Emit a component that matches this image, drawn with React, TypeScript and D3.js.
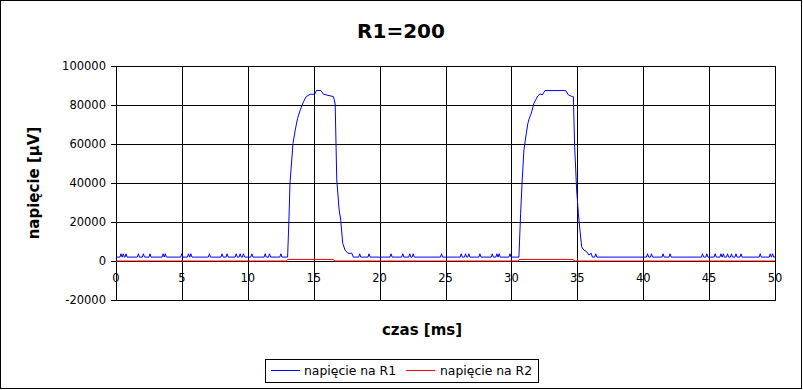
import * as d3 from "d3";

// czas [ms] of the small blips on the R1 baseline
const blipTimes = [
  0.38, 0.55, 0.76, 1.7, 2.08, 2.58, 3.58, 3.74, 4.99, 5.5, 5.68, 7.09, 8.05, 8.43,
  9.12, 9.42, 9.67, 10.31, 11.32, 11.65, 12.51, 18.49, 19.2, 20.87, 21.76, 22.29,
  22.55, 24.7, 26.19, 26.52, 26.77, 27.61, 28.55, 28.9, 29.07, 29.89, 36.4, 40.33,
  40.63, 41.51, 42.04, 44.5, 44.83, 45.46, 45.9, 46.08, 46.4, 46.7, 47.04, 47.42,
  48.88, 49.64, 49.82,
];
const r1Base = 2000;
const r1Blip = 3700;

// first pulse on R1: [t, µV]
const pulse1: [number, number][] = [
  [13.02, 2000], [13.12, 21000], [13.2, 39900], [13.43, 60400], [13.6, 67200],
  [13.78, 73200], [13.98, 77500], [14.23, 81700], [14.43, 84300], [14.74, 85500],
  [15.07, 85500], [15.2, 87400], [15.55, 87400], [15.75, 85500], [16.5, 84300],
  [16.63, 80500], [16.75, 41600], [16.93, 26200], [17.05, 21000], [17.2, 9100],
  [17.38, 5600], [17.6, 3950], [17.9, 3950], [18.0, 2000],
];

// second pulse on R1
const pulse2: [number, number][] = [
  [30.57, 2000], [30.7, 24500], [30.82, 41600], [30.95, 56900], [31.13, 65500],
  [31.25, 70600], [31.36, 73200], [31.51, 75800], [31.71, 80900], [31.84, 82600],
  [32.0, 84600], [32.17, 85700], [32.35, 85200], [32.55, 87400], [34.12, 87400],
  [34.32, 85200], [34.62, 84300], [34.7, 84300], [34.8, 58600], [34.95, 36400],
  [35.08, 24500], [35.2, 15900], [35.33, 7300], [35.5, 5600], [35.7, 4800],
  [35.88, 3100], [36.06, 3950], [36.14, 2000],
];

// R2
const r2Points: [number, number][] = [
  [0, 0], [12.93, 0], [13.02, 800], [16.5, 800], [16.58, 0], [30.5, 0],
  [30.6, 800], [34.7, 800], [34.78, 0], [50, 0],
];

const xTicks = [0, 5, 10, 15, 20, 25, 30, 35, 40, 45, 50];
const yTicks = [-20000, 0, 20000, 40000, 60000, 80000, 100000];

const r1Points: [number, number][] = [
  [0, r1Base],
  ...blipTimes.flatMap((t) => [
    [t - 0.08, r1Base] as [number, number],
    [t, r1Blip] as [number, number],
    [t + 0.08, r1Base] as [number, number],
  ]),
  ...pulse1,
  ...pulse2,
  [50, r1Base],
].sort((a, b) => a[0] - b[0]) as [number, number][];

const font = "'DejaVu Sans', sans-serif";

export default function App() {
  const W = 803;
  const H = 390;
  const x = d3.scaleLinear().domain([0, 50]).range([116, 775]);
  const y = d3.scaleLinear().domain([-20000, 100000]).range([300, 66]);
  const crisp = (v: number) => Math.round(v) + 0.5;

  const line = d3
    .line<[number, number]>()
    .x((d) => x(d[0]))
    .y((d) => y(d[1]));

  return (
    <svg
      width={W}
      height={H}
      style={{ position: "absolute", left: 0, top: 0, background: "white" }}
      fontFamily={font}
    >
      <rect x={0.5} y={0.5} width={W - 2} height={H - 2} fill="white" stroke="black" />

      <text x={401} y={38} textAnchor="middle" fontSize={20} fontWeight="bold">
        R1=200
      </text>

      {/* grid */}
      {yTicks.map((t) => (
        <g key={"y" + t}>
          <line x1={111} x2={x(50)} y1={crisp(y(t))} y2={crisp(y(t))} stroke="black" />
          <text x={106} y={y(t) + 4} textAnchor="end" fontSize={11.5}>
            {t}
          </text>
        </g>
      ))}
      {xTicks.map((t) => (
        <g key={"x" + t}>
          <text x={x(t)} y={282} textAnchor="middle" fontSize={11.5}>
            {t}
          </text>
          <line x1={crisp(x(t))} x2={crisp(x(t))} y1={y(100000)} y2={y(-20000)} stroke="black" />
        </g>
      ))}
      <rect
        x={crisp(x(0))}
        y={crisp(y(100000))}
        width={Math.round(x(50)) - Math.round(x(0))}
        height={Math.round(y(-20000)) - Math.round(y(100000))}
        fill="none"
        stroke="black"
      />

      <path d={line(r1Points) ?? ""} fill="none" stroke="#0000ff" strokeWidth={1} />
      <path d={line(r2Points) ?? ""} fill="none" stroke="#ff0000" strokeWidth={1} />

      <text
        transform="translate(39,183) rotate(-90)"
        textAnchor="middle"
        fontSize={15}
        fontWeight="bold"
      >
        napięcie [µV]
      </text>
      <text x={422} y={335} textAnchor="middle" fontSize={15} fontWeight="bold">
        czas [ms]
      </text>

      {/* legend */}
      <rect x={265.5} y={359.5} width={273} height={23} fill="white" stroke="black" />
      <line x1={271} x2={300} y1={370.5} y2={370.5} stroke="#0000ff" />
      <text x={304} y={375} fontSize={12.4}>
        napięcie na R1
      </text>
      <line x1={406} x2={435} y1={370.5} y2={370.5} stroke="#ff0000" />
      <text x={440} y={375} fontSize={12.4}>
        napięcie na R2
      </text>
    </svg>
  );
}
